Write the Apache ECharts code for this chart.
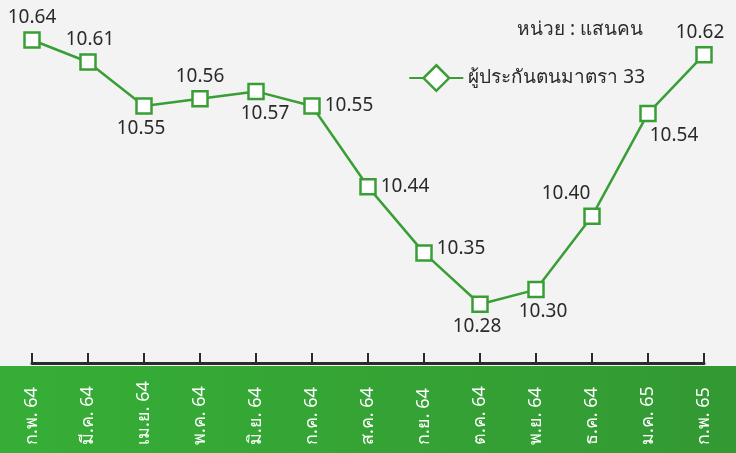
<!DOCTYPE html>
<html>
<head>
<meta charset="utf-8">
<script src="https://cdn.jsdelivr.net/npm/echarts@6/dist/echarts.min.js"></script>
<style>
  html, body { margin: 0; padding: 0; background: #f3f3f3; }
  #chart { width: 736px; height: 453px; }
</style>
</head>
<body>
<div id="chart"></div>
<script>
// ข้อมูล
const months = ['ก.พ. 64', 'มี.ค. 64', 'เม.ย. 64', 'พ.ค. 64', 'มิ.ย. 64', 'ก.ค. 64', 'ส.ค. 64',
  'ก.ย. 64', 'ต.ค. 64', 'พ.ย. 64', 'ธ.ค. 64', 'ม.ค. 65', 'ก.พ. 65'];
const insured33 = [10.64, 10.61, 10.55, 10.56, 10.57, 10.55, 10.44, 10.35, 10.28, 10.30, 10.40, 10.54, 10.62];
const seriesName = 'ผู้ประกันตนมาตรา 33';
const unitText = 'หน่วย : แสนคน';

// label placement per point
const labelPlace = [
  { position: 'top' }, { position: 'top', offset: [2, 0] }, { position: 'bottom', offset: [-3, 0] }, { position: 'top' },
  { position: 'bottom', offset: [9, 0] }, { position: 'right' }, { position: 'right' },
  { position: 'right', offset: [0, -4] }, { position: 'bottom', offset: [-3, 0] }, { position: 'bottom', offset: [7, 0] },
  { position: 'top', offset: [-26, 0] }, { position: 'bottom', offset: [26, 0] }, { position: 'top', offset: [-4, 0] }
];

const font = '"Noto Sans", "DejaVu Sans", sans-serif';
const green = '#3a9e36';

let myChart = echarts.init(document.getElementById('chart'));

let option = {
  backgroundColor: '#f3f3f3',
  animation: false,
  graphic: [
    {
      type: 'rect',
      z: -1,
      shape: { x: 0, y: 366, width: 736, height: 87 },
      style: {
        fill: new echarts.graphic.LinearGradient(0, 0, 1, 0, [
          { offset: 0, color: '#36ae36' },
          { offset: 1, color: '#339933' }
        ])
      }
    }
  ],
  title: {
    text: unitText,
    right: 88,
    top: 15,
    textStyle: { fontFamily: font, fontSize: 19, fontWeight: 'normal', color: '#2a2a2a' }
  },
  legend: {
    right: 86,
    top: 59,
    itemWidth: 54,
    itemHeight: 32,
    itemGap: 8,
    textStyle: { fontFamily: font, fontSize: 19, color: '#2a2a2a' },
    data: [{ name: seriesName, itemStyle: { color: '#fff', borderColor: green, borderWidth: 2.5 } }]
  },
  grid: { left: 32, right: 32, top: 40, bottom: 90 },
  xAxis: {
    type: 'category',
    data: months,
    boundaryGap: false,
    axisLine: { lineStyle: { color: '#2b2b2b', width: 3 } },
    axisTick: { inside: true, length: 10, lineStyle: { color: '#2b2b2b', width: 2 } },
    axisLabel: {
      rotate: 90,
      align: 'left',
      verticalAlign: 'middle',
      margin: 82,
      color: '#fff',
      fontFamily: font,
      fontSize: 18
    }
  },
  yAxis: {
    type: 'value',
    min: 10.2,
    max: 10.64,
    show: false,
    splitLine: { show: false }
  },
  series: [
    {
      name: seriesName,
      type: 'line',
      symbol: 'diamond',
      symbolSize: 15,
      lineStyle: { color: green, width: 2.5 },
      itemStyle: { color: '#fff', borderColor: green, borderWidth: 2.5 },
      label: {
        show: true,
        fontFamily: font,
        fontSize: 19,
        color: '#2a2a2a',
        distance: 4,
        formatter: (p) => p.value.toFixed(2)
      },
      data: insured33.map((v, i) => ({ value: v, symbol: 'rect', label: labelPlace[i] }))
    }
  ]
};

myChart.setOption(option);
</script>
</body>
</html>
